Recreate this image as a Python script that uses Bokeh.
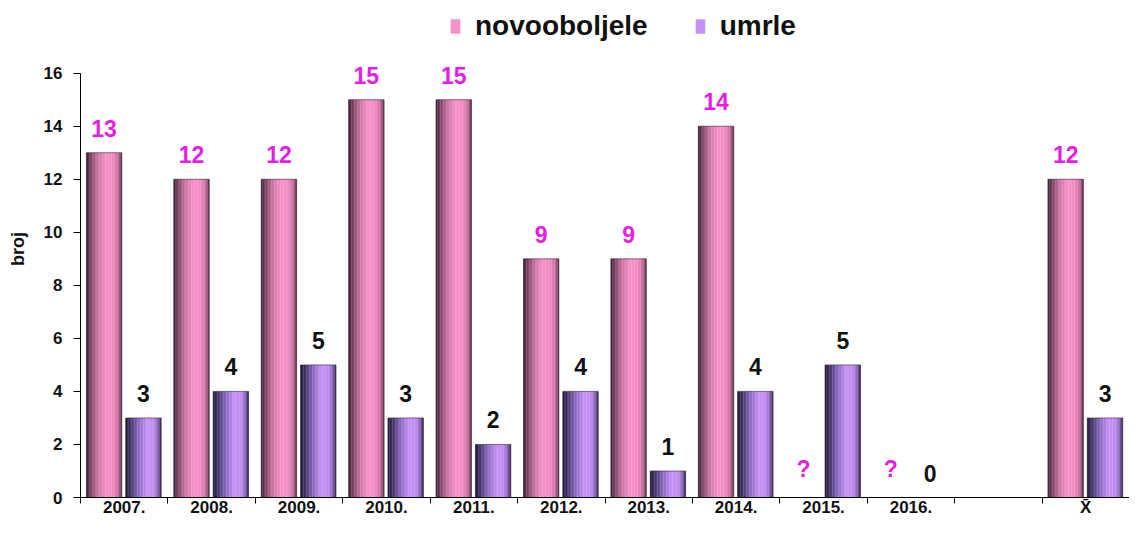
from bokeh.plotting import figure
from bokeh.models import ColumnDataSource, Range1d, FixedTicker, Legend, LegendItem
from bokeh.transform import dodge
from bokeh.core.properties import value
from bokeh.embed import file_html
from bokeh.resources import INLINE

# ---------------- data ----------------
categories = ["2007.", "2008.", "2009.", "2010.", "2011.", "2012.",
              "2013.", "2014.", "2015.", "2016.", "", "X\u0304"]
novooboljele = [13, 12, 12, 15, 15, 9, 9, 14, None, None, None, 12]
umrle = [3, 4, 5, 3, 2, 4, 1, 4, 5, 0, None, 3]
y_ticks = [0, 2, 4, 6, 8, 10, 12, 14, 16]
series_names = ["novooboljele", "umrle"]

NAN = float("nan")
FONT = "Liberation Sans"

# ---------------- styles ----------------
pink_stops = [(0.0, "#3c2030"), (0.12, "#7a4060"), (0.32, "#c873a2"),
              (0.55, "#f690c8"), (0.75, "#f38cc4"), (0.9, "#c86f9e"), (1.0, "#5e3049")]
purple_stops = [(0.0, "#1e1634"), (0.12, "#3e2e62"), (0.35, "#8667bd"),
                (0.6, "#c690f8"), (0.8, "#bf8bf0"), (0.92, "#8560b4"), (1.0, "#33264f")]


def hex2rgb(h):
    h = h.lstrip("#")
    return tuple(int(h[i:i + 2], 16) for i in (0, 2, 4))


def grad(stops, t):
    for (t0, c0), (t1, c1) in zip(stops[:-1], stops[1:]):
        if t0 <= t <= t1:
            f = (t - t0) / (t1 - t0) if t1 > t0 else 0
            a, b = hex2rgb(c0), hex2rgb(c1)
            return "#%02x%02x%02x" % tuple(int(round(a[i] + (b[i] - a[i]) * f)) for i in range(3))
    return stops[-1][1]


N_STRIPS = 24
BAR_W = 0.405
PINK_OFF = 0.27
PURPLE_OFF = 0.72

p = figure(width=1129, height=519,
           x_range=Range1d(0, len(categories)), y_range=Range1d(0, 18.74),
           output_backend="svg", toolbar_location=None,
           min_border_left=80, min_border_right=0, min_border_top=0, min_border_bottom=0)
p.outline_line_color = None
p.xgrid.grid_line_color = None
p.ygrid.grid_line_color = None
p.background_fill_color = "white"

idx = list(range(len(categories)))
src_n = ColumnDataSource(dict(x=idx, top=[NAN if v is None else v for v in novooboljele]))
src_u = ColumnDataSource(dict(x=idx, top=[NAN if v is None else v for v in umrle]))


def draw_bars(src, center_off, stops):
    rs = []
    sw = BAR_W / N_STRIPS
    for k in range(N_STRIPS):
        t = (k + 0.5) / N_STRIPS
        off = center_off - BAR_W / 2 + (k + 0.5) * sw
        c = grad(stops, t)
        r = p.vbar(x=dodge("x", off), top="top", bottom=0, width=sw * 1.15,
                   source=src, fill_color=c, line_color=None)
        rs.append(r)
    p.vbar(x=dodge("x", center_off), top="top", bottom=0, width=BAR_W, source=src,
           fill_color=None, line_color="#2a1a2a", line_alpha=0.55, line_width=1)
    return rs


rs_n = draw_bars(src_n, PINK_OFF, pink_stops)
rs_u = draw_bars(src_u, PURPLE_OFF, purple_stops)

# value labels
lab_n = dict(x=[], y=[], text=[])
lab_u = dict(x=[], y=[], text=[])
for i, cat in enumerate(categories):
    if cat == "":
        continue
    v = novooboljele[i]
    lab_n["x"].append(i)
    lab_n["y"].append(0 if v is None else v)
    lab_n["text"].append("?" if v is None else str(v))
    u = umrle[i]
    if u is not None:
        lab_u["x"].append(i)
        lab_u["y"].append(u)
        lab_u["text"].append(str(u))

p.text(x=dodge("x", PINK_OFF), y="y", text="text", source=ColumnDataSource(lab_n),
       text_align="center", text_baseline="bottom", y_offset=-16,
       text_font=value(FONT), text_font_style="bold", text_font_size="23px",
       text_color="#e41ee4")
p.text(x=dodge("x", PURPLE_OFF), y="y", text="text", source=ColumnDataSource(lab_u),
       text_align="center", text_baseline="bottom", y_offset=-16,
       text_font=value(FONT), text_font_style="bold", text_font_size="23px",
       text_color="#111111")

# axes
centers = [i + 0.5 for i in idx]
bounds = list(range(len(categories) + 1))
xa = p.xaxis[0]
xa.ticker = FixedTicker(ticks=centers, minor_ticks=bounds)
xa.major_label_overrides = {c: lab for c, lab in zip(centers, categories)}
xa.major_tick_in = 0
xa.major_tick_out = 0
xa.minor_tick_in = 0
xa.minor_tick_out = 6
xa.minor_tick_line_color = "black"
xa.axis_line_color = "black"
xa.major_label_text_font = FONT
xa.major_label_text_font_style = "bold"
xa.major_label_text_font_size = "17px"
xa.major_label_text_line_height = 1.0
xa.major_label_text_color = "#111111"
xa.major_label_standoff = -6

ya = p.yaxis[0]
ya.bounds = (0, 16)
ya.ticker = FixedTicker(ticks=y_ticks, minor_ticks=[])
ya.major_tick_in = 0
ya.major_tick_out = 7
ya.axis_line_color = "black"
ya.major_tick_line_color = "black"
ya.major_label_text_font = FONT
ya.major_label_text_font_style = "bold"
ya.major_label_text_font_size = "17px"
ya.major_label_text_color = "#111111"
ya.major_label_standoff = 11
ya.axis_label = "broj"
ya.axis_label_text_font = FONT
ya.axis_label_text_font_style = "bold"
ya.axis_label_text_font_size = "18px"
ya.axis_label_text_color = "#111111"
ya.axis_label_standoff = 13

# legend
legend = Legend(items=[LegendItem(label=series_names[0], renderers=[rs_n[int(N_STRIPS * 0.55)]]),
                       LegendItem(label=series_names[1], renderers=[rs_u[int(N_STRIPS * 0.6)]])],
                orientation="horizontal", location=(369, 455),
                glyph_width=12, glyph_height=18, label_standoff=14, spacing=46,
                label_text_font=FONT, label_text_font_style="bold",
                label_text_font_size="28px", label_text_color="#111111",
                background_fill_alpha=0, border_line_color=None, padding=4, margin=0)
p.add_layout(legend)

open("out.html", "w").write(file_html(p, INLINE))
